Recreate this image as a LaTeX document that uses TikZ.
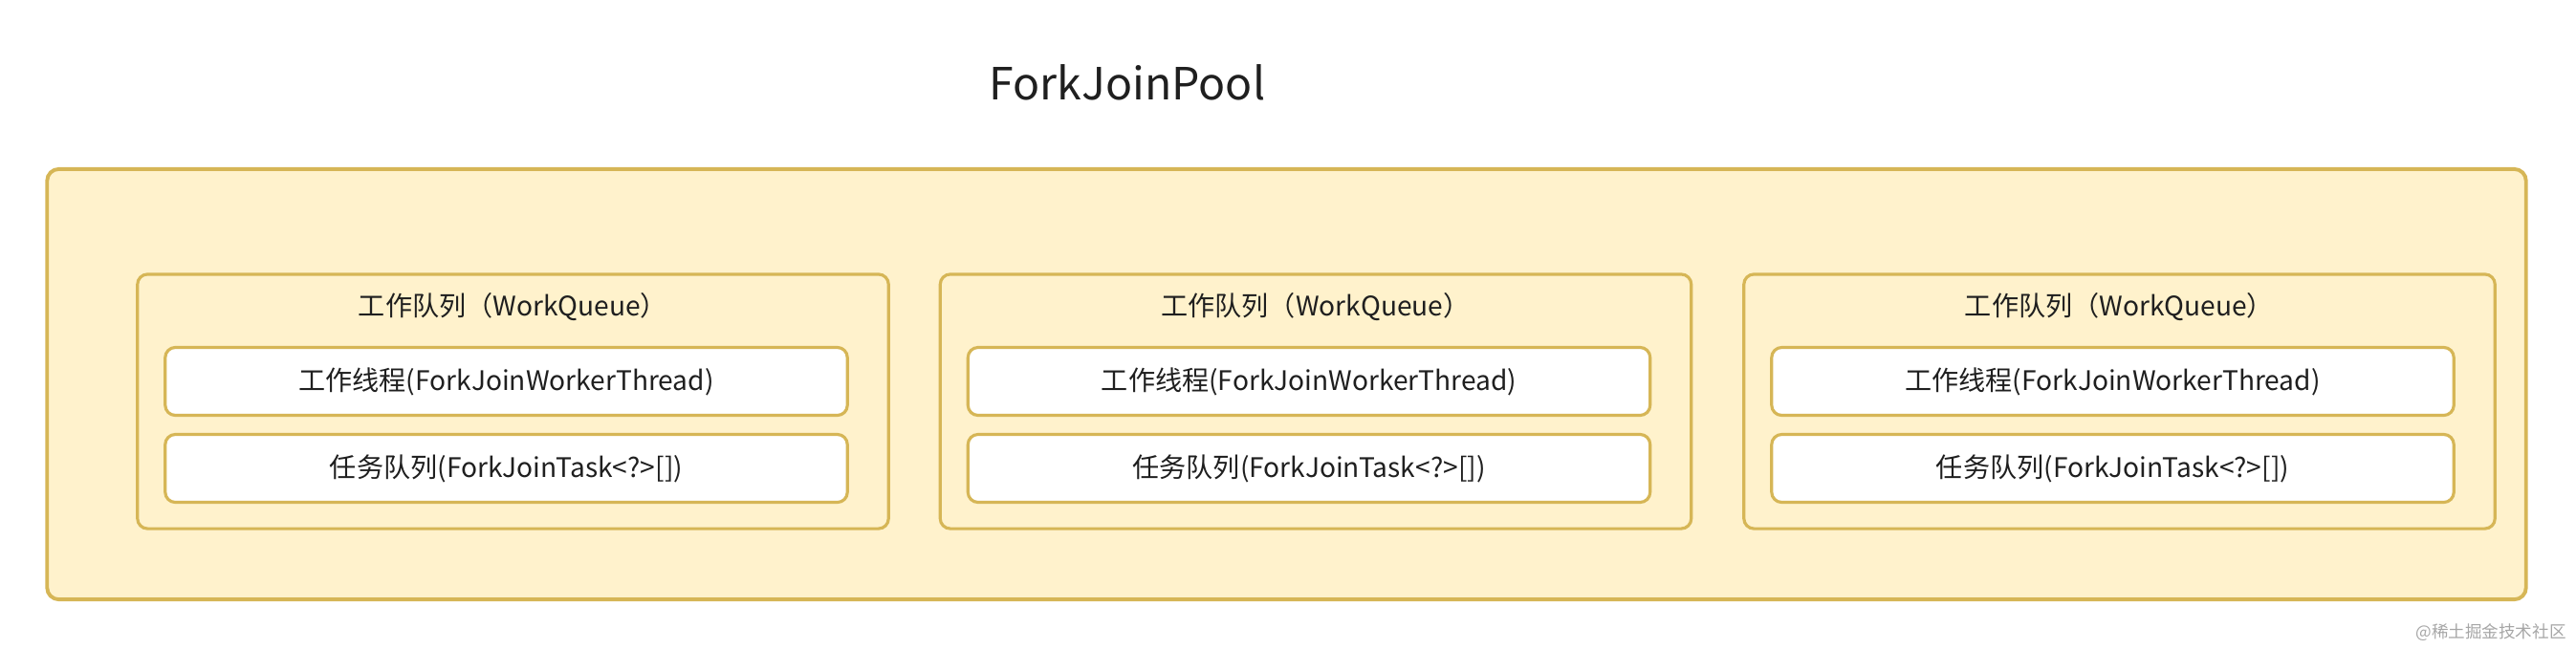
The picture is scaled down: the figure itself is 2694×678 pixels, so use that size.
\documentclass[tikz,border=0pt]{standalone}
\usepackage{fontspec}
\setmainfont{Noto Sans CJK SC}
\usepackage{tikz}
\definecolor{poolfill}{HTML}{FFF2CC}
\definecolor{poolline}{HTML}{D6B656}
\definecolor{marktext}{HTML}{A6A6A6}
\definecolor{titletext}{HTML}{1F1F1F}
\tikzset{
	pool/.style={draw=poolline,fill=poolfill,line width=1.1pt,rounded corners=3.5pt,minimum width=25.91cm,minimum height=4.5cm,inner sep=0pt},
	queue/.style={draw=poolline,fill=poolfill,line width=0.9pt,rounded corners=3pt,minimum width=7.85cm,minimum height=2.66cm,inner sep=0pt},
	item/.style={draw=poolline,fill=white,line width=0.9pt,rounded corners=3pt,minimum width=7.13cm,minimum height=0.71cm,inner sep=0pt,font=\fontsize{8}{10}\selectfont,text=titletext},
	qtitle/.style={font=\fontsize{8}{10}\selectfont,text=titletext,inner sep=0pt}
}

\begin{document}
\begin{tikzpicture}[x=0.01cm,y=-0.01cm]
	\useasboundingbox (0,0) rectangle (2694,678);
	\node [font=\fontsize{13.2}{16}\selectfont,text=titletext] (title) at (1179,86) {ForkJoinPool};
	\node [pool] (pool) at (1345.5,402) {};
	
	\node [queue] (q1) at (536.5,420) {};
	\node [qtitle] (q1t) at (536.5,321) {工作队列（WorkQueue）};
	\node [item] (w1) at (529.5,399) {工作线程(ForkJoinWorkerThread)};
	\node [item] (t1) at (529.5,490) {任务队列(ForkJoinTask<?>[])};
	
	\node [queue] (q2) at (1376,420) {};
	\node [qtitle] (q2t) at (1376,321) {工作队列（WorkQueue）};
	\node [item] (w2) at (1369,399) {工作线程(ForkJoinWorkerThread)};
	\node [item] (t2) at (1369,490) {任务队列(ForkJoinTask<?>[])};
	
	\node [queue] (q3) at (2216.5,420) {};
	\node [qtitle] (q3t) at (2216.5,321) {工作队列（WorkQueue）};
	\node [item] (w3) at (2209.5,399) {工作线程(ForkJoinWorkerThread)};
	\node [item] (t3) at (2209.5,490) {任务队列(ForkJoinTask<?>[])};
	
	\node [font=\fontsize{5}{6}\selectfont,text=marktext,inner sep=0pt] (mark) at (2605,662) {@稀土掘金技术社区};
\end{tikzpicture}
\end{document}
